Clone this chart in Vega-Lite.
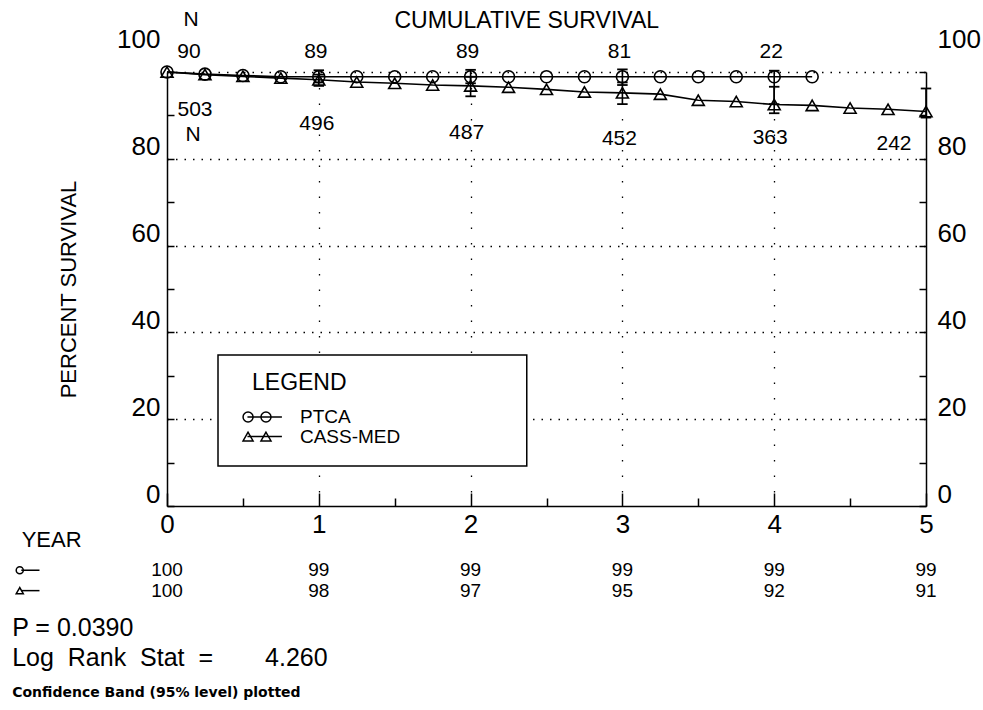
{
  "$schema": "https://vega.github.io/schema/vega-lite/v6.json",
  "width": 759,
  "height": 434,
  "autosize": {"type": "none"},
  "padding": {"left": 167, "top": 72, "right": 57, "bottom": 204},
  "background": "white",
  "config": {
    "view": {"stroke": null},
    "font": "Liberation Sans",
    "text": {"font": "Liberation Sans", "color": "black", "baseline": "middle"}
  },
  "data": {"values": [{}]},
  "datasets": {
    "surv": [
      {"group": "PTCA", "year": 0, "surv": 100},
      {"group": "PTCA", "year": 0.25, "surv": 99.5},
      {"group": "PTCA", "year": 0.5, "surv": 99.2},
      {"group": "PTCA", "year": 0.75, "surv": 98.9},
      {"group": "PTCA", "year": 1, "surv": 98.9},
      {"group": "PTCA", "year": 1.25, "surv": 98.9},
      {"group": "PTCA", "year": 1.5, "surv": 98.9},
      {"group": "PTCA", "year": 1.75, "surv": 98.9},
      {"group": "PTCA", "year": 2, "surv": 98.9},
      {"group": "PTCA", "year": 2.25, "surv": 98.9},
      {"group": "PTCA", "year": 2.5, "surv": 98.9},
      {"group": "PTCA", "year": 2.75, "surv": 98.9},
      {"group": "PTCA", "year": 3, "surv": 98.9},
      {"group": "PTCA", "year": 3.25, "surv": 98.9},
      {"group": "PTCA", "year": 3.5, "surv": 98.9},
      {"group": "PTCA", "year": 3.75, "surv": 98.9},
      {"group": "PTCA", "year": 4, "surv": 98.9},
      {"group": "PTCA", "year": 4.25, "surv": 98.9},
      {"group": "CASS-MED", "year": 0, "surv": 100},
      {"group": "CASS-MED", "year": 0.25, "surv": 99.4},
      {"group": "CASS-MED", "year": 0.5, "surv": 99.0},
      {"group": "CASS-MED", "year": 0.75, "surv": 98.6},
      {"group": "CASS-MED", "year": 1, "surv": 98.2},
      {"group": "CASS-MED", "year": 1.25, "surv": 97.7},
      {"group": "CASS-MED", "year": 1.5, "surv": 97.4},
      {"group": "CASS-MED", "year": 1.75, "surv": 97.0},
      {"group": "CASS-MED", "year": 2, "surv": 96.8},
      {"group": "CASS-MED", "year": 2.25, "surv": 96.5},
      {"group": "CASS-MED", "year": 2.5, "surv": 96.0},
      {"group": "CASS-MED", "year": 2.75, "surv": 95.4},
      {"group": "CASS-MED", "year": 3, "surv": 95.2},
      {"group": "CASS-MED", "year": 3.25, "surv": 94.9},
      {"group": "CASS-MED", "year": 3.5, "surv": 93.5},
      {"group": "CASS-MED", "year": 3.75, "surv": 93.2},
      {"group": "CASS-MED", "year": 4, "surv": 92.5},
      {"group": "CASS-MED", "year": 4.25, "surv": 92.3},
      {"group": "CASS-MED", "year": 4.5, "surv": 91.7},
      {"group": "CASS-MED", "year": 4.75, "surv": 91.4},
      {"group": "CASS-MED", "year": 5, "surv": 90.9}
    ],
    "ci": [
      {"group": "PTCA", "year": 1, "lo": 97.6, "hi": 100.4},
      {"group": "PTCA", "year": 2, "lo": 97.4, "hi": 100.5},
      {"group": "PTCA", "year": 3, "lo": 97.0, "hi": 100.6},
      {"group": "PTCA", "year": 4, "lo": 92.6, "hi": 100.3},
      {"group": "CASS-MED", "year": 1, "lo": 96.8, "hi": 99.4},
      {"group": "CASS-MED", "year": 2, "lo": 94.4, "hi": 98.9},
      {"group": "CASS-MED", "year": 3, "lo": 92.6, "hi": 97.6},
      {"group": "CASS-MED", "year": 4, "lo": 90.5, "hi": 96.6},
      {"group": "CASS-MED", "year": 5, "lo": 89.5, "hi": 96.2}
    ],
    "nrisk": [
      {"group": "PTCA", "year": 0, "n": 90},
      {"group": "PTCA", "year": 1, "n": 89},
      {"group": "PTCA", "year": 2, "n": 89},
      {"group": "PTCA", "year": 3, "n": 81},
      {"group": "PTCA", "year": 4, "n": 22},
      {"group": "CASS-MED", "year": 0, "n": 503},
      {"group": "CASS-MED", "year": 1, "n": 496},
      {"group": "CASS-MED", "year": 2, "n": 487},
      {"group": "CASS-MED", "year": 3, "n": 452},
      {"group": "CASS-MED", "year": 4, "n": 363},
      {"group": "CASS-MED", "year": 5, "n": 242}
    ],
    "table": [
      {"group": "PTCA", "year": 0, "pct": 100},
      {"group": "PTCA", "year": 1, "pct": 99},
      {"group": "PTCA", "year": 2, "pct": 99},
      {"group": "PTCA", "year": 3, "pct": 99},
      {"group": "PTCA", "year": 4, "pct": 99},
      {"group": "PTCA", "year": 5, "pct": 99},
      {"group": "CASS-MED", "year": 0, "pct": 100},
      {"group": "CASS-MED", "year": 1, "pct": 98},
      {"group": "CASS-MED", "year": 2, "pct": 97},
      {"group": "CASS-MED", "year": 3, "pct": 95},
      {"group": "CASS-MED", "year": 4, "pct": 92},
      {"group": "CASS-MED", "year": 5, "pct": 91}
    ]
  },
  "resolve": {"axis": {"y": "independent"}},
  "layer": [
    {
      "data": {"name": "surv"},
      "mark": {"type": "line", "color": "black", "strokeWidth": 1.6},
      "encoding": {
        "x": {
          "field": "year", "type": "quantitative", "title": null,
          "scale": {"domain": [0, 5], "nice": false},
          "axis": {
            "values": [0, 0.25, 0.5, 0.75, 1, 1.25, 1.5, 1.75, 2, 2.25, 2.5, 2.75, 3, 3.25, 3.5, 3.75, 4, 4.25, 4.5, 4.75, 5],
            "labelExpr": "datum.value % 1 === 0 ? format(datum.value, 'd') : ''",
            "tickSize": {"condition": {"test": "datum.value % 1 === 0", "value": -13}, "value": -8},
            "tickWidth": 1.5, "tickColor": "black",
            "domainColor": "black", "domainWidth": 1.5,
            "grid": true, "gridColor": "black", "gridWidth": 1.3, "gridDash": [1.5, 14],
            "gridOpacity": {"condition": {"test": "datum.value % 1 === 0 && datum.value > 0 && datum.value < 5", "value": 1}, "value": 0},
            "labelFontSize": 26, "labelColor": "black", "labelFont": "Liberation Sans",
            "labelPadding": 18, "labelFlush": false, "labelOverlap": false
          }
        },
        "y": {
          "field": "surv", "type": "quantitative",
          "scale": {"domain": [0, 100], "nice": false},
          "axis": {
            "orient": "left",
            "values": [0, 10, 20, 30, 40, 50, 60, 70, 80, 90, 100],
            "labelExpr": "datum.value % 20 === 0 ? datum.label : ''",
            "tickSize": -7, "tickWidth": 1.5, "tickColor": "black",
            "domainColor": "black", "domainWidth": 1.5,
            "grid": true, "gridColor": "black", "gridWidth": 1.3, "gridDash": [1.5, 7],
            "gridOpacity": {"condition": {"test": "datum.value % 20 === 0 && datum.value > 0", "value": 1}, "value": 0},
            "labelFontSize": 26, "labelColor": "black", "labelFont": "Liberation Sans",
            "labelPadding": 14, "labelFlush": false, "labelOverlap": false,
            "labelOffset": {"condition": {"test": "datum.value === 100", "value": -33}, "value": -12},
            "title": "PERCENT SURVIVAL", "titleFontSize": 22, "titleFontWeight": "normal",
            "titleFont": "Liberation Sans", "titleColor": "black", "titlePadding": 36
          }
        },
        "detail": {"field": "group"}
      }
    },
    {
      "data": {"name": "surv"},
      "mark": {"type": "point", "filled": false, "color": "black", "strokeWidth": 1.6, "size": 144, "opacity": 1},
      "encoding": {
        "x": {"field": "year", "type": "quantitative", "title": null, "scale": {"domain": [0, 5], "nice": false}},
        "y": {
          "field": "surv", "type": "quantitative",
          "scale": {"domain": [0, 100], "nice": false},
          "axis": {
            "orient": "right",
            "values": [0, 10, 20, 30, 40, 50, 60, 70, 80, 90, 100],
            "labelExpr": "datum.value % 20 === 0 ? datum.label : ''",
            "tickSize": -7, "tickWidth": 1.5, "tickColor": "black",
            "domainColor": "black", "domainWidth": 1.5, "grid": false,
            "labelFontSize": 26, "labelColor": "black", "labelFont": "Liberation Sans",
            "labelPadding": 18, "labelFlush": false, "labelOverlap": false,
            "labelOffset": {"condition": {"test": "datum.value === 100", "value": -33}, "value": -12},
            "title": null
          }
        },
        "shape": {"field": "group", "type": "nominal", "legend": null,
          "scale": {"domain": ["PTCA", "CASS-MED"], "range": ["circle", "triangle-up"]}}
      }
    },
    {
      "data": {"name": "ci"},
      "mark": {"type": "rule", "color": "black", "strokeWidth": 1.6},
      "encoding": {
        "x": {"field": "year", "type": "quantitative", "title": null, "scale": {"domain": [0, 5], "nice": false}},
        "y": {"field": "lo", "type": "quantitative", "axis": null, "scale": {"domain": [0, 100], "nice": false}},
        "y2": {"field": "hi"}
      }
    },
    {
      "data": {"name": "ci"},
      "transform": [{"fold": ["lo", "hi"], "as": ["bound", "val"]}],
      "mark": {"type": "point", "shape": "M-1,0L1,0", "filled": false, "color": "black", "strokeWidth": 1.8, "size": 110, "opacity": 1},
      "encoding": {
        "x": {"field": "year", "type": "quantitative", "title": null, "scale": {"domain": [0, 5], "nice": false}},
        "y": {"field": "val", "type": "quantitative", "axis": null, "scale": {"domain": [0, 100], "nice": false}}
      }
    },
    {
      "mark": {"type": "rect", "fill": "white", "stroke": "black", "strokeWidth": 1.5},
      "encoding": {
        "x": {"datum": 0.336, "type": "quantitative", "scale": {"domain": [0, 5], "nice": false}},
        "x2": {"datum": 2.37},
        "y": {"datum": 34.8, "type": "quantitative", "axis": null, "scale": {"domain": [0, 100], "nice": false}},
        "y2": {"datum": 9.2}
      }
    },
    {
      "mark": {"type": "text", "fontSize": 23, "align": "left"},
      "encoding": {
        "x": {"datum": 0.56, "type": "quantitative", "scale": {"domain": [0, 5], "nice": false}},
        "y": {"datum": 28.4, "type": "quantitative", "axis": null, "scale": {"domain": [0, 100], "nice": false}},
        "text": {"value": "LEGEND"}
      }
    },
    {
      "mark": {"type": "text", "fontSize": 19, "align": "left"},
      "encoding": {
        "x": {"datum": 0.876, "type": "quantitative", "scale": {"domain": [0, 5], "nice": false}},
        "y": {"datum": 20.5, "type": "quantitative", "axis": null, "scale": {"domain": [0, 100], "nice": false}},
        "text": {"value": "PTCA"}
      }
    },
    {
      "mark": {"type": "text", "fontSize": 19, "align": "left"},
      "encoding": {
        "x": {"datum": 0.876, "type": "quantitative", "scale": {"domain": [0, 5], "nice": false}},
        "y": {"datum": 16.0, "type": "quantitative", "axis": null, "scale": {"domain": [0, 100], "nice": false}},
        "text": {"value": "CASS-MED"}
      }
    },
    {
      "mark": {"type": "rule", "color": "black", "strokeWidth": 1.5},
      "encoding": {
        "x": {"datum": 0.53, "type": "quantitative", "scale": {"domain": [0, 5], "nice": false}},
        "x2": {"datum": 0.757},
        "y": {"datum": 20.5, "type": "quantitative", "axis": null, "scale": {"domain": [0, 100], "nice": false}}
      }
    },
    {
      "mark": {"type": "rule", "color": "black", "strokeWidth": 1.5},
      "encoding": {
        "x": {"datum": 0.53, "type": "quantitative", "scale": {"domain": [0, 5], "nice": false}},
        "x2": {"datum": 0.757},
        "y": {"datum": 16.0, "type": "quantitative", "axis": null, "scale": {"domain": [0, 100], "nice": false}}
      }
    },
    {
      "mark": {"type": "point", "shape": "circle", "filled": false, "color": "black", "strokeWidth": 1.5, "size": 100, "opacity": 1},
      "encoding": {
        "x": {"datum": 0.534, "type": "quantitative", "scale": {"domain": [0, 5], "nice": false}},
        "y": {"datum": 20.5, "type": "quantitative", "axis": null, "scale": {"domain": [0, 100], "nice": false}}
      }
    },
    {
      "mark": {"type": "point", "shape": "circle", "filled": false, "color": "black", "strokeWidth": 1.5, "size": 100, "opacity": 1},
      "encoding": {
        "x": {"datum": 0.652, "type": "quantitative", "scale": {"domain": [0, 5], "nice": false}},
        "y": {"datum": 20.5, "type": "quantitative", "axis": null, "scale": {"domain": [0, 100], "nice": false}}
      }
    },
    {
      "mark": {"type": "point", "shape": "triangle-up", "filled": false, "color": "black", "strokeWidth": 1.5, "size": 100, "opacity": 1},
      "encoding": {
        "x": {"datum": 0.534, "type": "quantitative", "scale": {"domain": [0, 5], "nice": false}},
        "y": {"datum": 16.0, "type": "quantitative", "axis": null, "scale": {"domain": [0, 100], "nice": false}}
      }
    },
    {
      "mark": {"type": "point", "shape": "triangle-up", "filled": false, "color": "black", "strokeWidth": 1.5, "size": 100, "opacity": 1},
      "encoding": {
        "x": {"datum": 0.652, "type": "quantitative", "scale": {"domain": [0, 5], "nice": false}},
        "y": {"datum": 16.0, "type": "quantitative", "axis": null, "scale": {"domain": [0, 100], "nice": false}}
      }
    },
    {
      "mark": {"type": "text", "fontSize": 23, "align": "center"},
      "encoding": {
        "x": {"datum": 2.37, "type": "quantitative", "scale": {"domain": [0, 5], "nice": false}},
        "y": {"datum": 111.8, "type": "quantitative", "axis": null, "scale": {"domain": [0, 100], "nice": false}},
        "text": {"value": "CUMULATIVE SURVIVAL"}
      }
    },
    {
      "mark": {"type": "text", "fontSize": 21, "align": "center", "dx": 24},
      "encoding": {
        "x": {"datum": 0, "type": "quantitative", "scale": {"domain": [0, 5], "nice": false}},
        "y": {"datum": 112, "type": "quantitative", "axis": null, "scale": {"domain": [0, 100], "nice": false}},
        "text": {"value": "N"}
      }
    },
    {
      "data": {"name": "nrisk"},
      "transform": [{"filter": "datum.group === 'PTCA' && datum.year === 0"}],
      "mark": {"type": "text", "fontSize": 21, "align": "center", "dx": 22},
      "encoding": {
        "x": {"field": "year", "type": "quantitative", "title": null, "scale": {"domain": [0, 5], "nice": false}},
        "y": {"datum": 104.6, "type": "quantitative", "axis": null, "scale": {"domain": [0, 100], "nice": false}},
        "text": {"field": "n"}
      }
    },
    {
      "data": {"name": "nrisk"},
      "transform": [{"filter": "datum.group === 'PTCA' && datum.year > 0"}],
      "mark": {"type": "text", "fontSize": 21, "align": "center", "dx": -3},
      "encoding": {
        "x": {"field": "year", "type": "quantitative", "title": null, "scale": {"domain": [0, 5], "nice": false}},
        "y": {"datum": 104.6, "type": "quantitative", "axis": null, "scale": {"domain": [0, 100], "nice": false}},
        "text": {"field": "n"}
      }
    },
    {
      "data": {"name": "nrisk"},
      "transform": [{"filter": "datum.group === 'CASS-MED' && datum.year === 0"}],
      "mark": {"type": "text", "fontSize": 21, "align": "center", "dx": 28},
      "encoding": {
        "x": {"field": "year", "type": "quantitative", "title": null, "scale": {"domain": [0, 5], "nice": false}},
        "y": {"datum": 91.2, "type": "quantitative", "axis": null, "scale": {"domain": [0, 100], "nice": false}},
        "text": {"field": "n"}
      }
    },
    {
      "mark": {"type": "text", "fontSize": 21, "align": "center", "dx": 26},
      "encoding": {
        "x": {"datum": 0, "type": "quantitative", "scale": {"domain": [0, 5], "nice": false}},
        "y": {"datum": 85.5, "type": "quantitative", "axis": null, "scale": {"domain": [0, 100], "nice": false}},
        "text": {"value": "N"}
      }
    },
    {
      "data": {"name": "nrisk"},
      "transform": [{"filter": "datum.group === 'CASS-MED' && datum.year === 1"}],
      "mark": {"type": "text", "fontSize": 21, "align": "center", "dx": -2},
      "encoding": {
        "x": {"field": "year", "type": "quantitative", "title": null, "scale": {"domain": [0, 5], "nice": false}},
        "y": {"datum": 88.0, "type": "quantitative", "axis": null, "scale": {"domain": [0, 100], "nice": false}},
        "text": {"field": "n"}
      }
    },
    {
      "data": {"name": "nrisk"},
      "transform": [{"filter": "datum.group === 'CASS-MED' && datum.year === 2"}],
      "mark": {"type": "text", "fontSize": 21, "align": "center", "dx": -4},
      "encoding": {
        "x": {"field": "year", "type": "quantitative", "title": null, "scale": {"domain": [0, 5], "nice": false}},
        "y": {"datum": 85.9, "type": "quantitative", "axis": null, "scale": {"domain": [0, 100], "nice": false}},
        "text": {"field": "n"}
      }
    },
    {
      "data": {"name": "nrisk"},
      "transform": [{"filter": "datum.group === 'CASS-MED' && datum.year === 3"}],
      "mark": {"type": "text", "fontSize": 21, "align": "center", "dx": -3},
      "encoding": {
        "x": {"field": "year", "type": "quantitative", "title": null, "scale": {"domain": [0, 5], "nice": false}},
        "y": {"datum": 84.6, "type": "quantitative", "axis": null, "scale": {"domain": [0, 100], "nice": false}},
        "text": {"field": "n"}
      }
    },
    {
      "data": {"name": "nrisk"},
      "transform": [{"filter": "datum.group === 'CASS-MED' && datum.year === 4"}],
      "mark": {"type": "text", "fontSize": 21, "align": "center", "dx": -4},
      "encoding": {
        "x": {"field": "year", "type": "quantitative", "title": null, "scale": {"domain": [0, 5], "nice": false}},
        "y": {"datum": 84.9, "type": "quantitative", "axis": null, "scale": {"domain": [0, 100], "nice": false}},
        "text": {"field": "n"}
      }
    },
    {
      "data": {"name": "nrisk"},
      "transform": [{"filter": "datum.group === 'CASS-MED' && datum.year === 5"}],
      "mark": {"type": "text", "fontSize": 21, "align": "center", "dx": -32},
      "encoding": {
        "x": {"field": "year", "type": "quantitative", "title": null, "scale": {"domain": [0, 5], "nice": false}},
        "y": {"datum": 83.3, "type": "quantitative", "axis": null, "scale": {"domain": [0, 100], "nice": false}},
        "text": {"field": "n"}
      }
    },
    {
      "mark": {"type": "text", "fontSize": 22, "align": "center"},
      "encoding": {
        "x": {"datum": -0.76, "type": "quantitative", "scale": {"domain": [0, 5], "nice": false}},
        "y": {"datum": -7.8, "type": "quantitative", "axis": null, "scale": {"domain": [0, 100], "nice": false}},
        "text": {"value": "YEAR"}
      }
    },
    {
      "data": {"name": "table"},
      "transform": [{"filter": "datum.group === 'PTCA'"}],
      "mark": {"type": "text", "fontSize": 19, "align": "center"},
      "encoding": {
        "x": {"field": "year", "type": "quantitative", "title": null, "scale": {"domain": [0, 5], "nice": false}},
        "y": {"datum": -14.8, "type": "quantitative", "axis": null, "scale": {"domain": [0, 100], "nice": false}},
        "text": {"field": "pct"}
      }
    },
    {
      "data": {"name": "table"},
      "transform": [{"filter": "datum.group === 'CASS-MED'"}],
      "mark": {"type": "text", "fontSize": 19, "align": "center"},
      "encoding": {
        "x": {"field": "year", "type": "quantitative", "title": null, "scale": {"domain": [0, 5], "nice": false}},
        "y": {"datum": -19.5, "type": "quantitative", "axis": null, "scale": {"domain": [0, 100], "nice": false}},
        "text": {"field": "pct"}
      }
    },
    {
      "mark": {"type": "rule", "color": "black", "strokeWidth": 1.5},
      "encoding": {
        "x": {"datum": -0.96, "type": "quantitative", "scale": {"domain": [0, 5], "nice": false}},
        "x2": {"datum": -0.84},
        "y": {"datum": -14.8, "type": "quantitative", "axis": null, "scale": {"domain": [0, 100], "nice": false}}
      }
    },
    {
      "mark": {"type": "rule", "color": "black", "strokeWidth": 1.5},
      "encoding": {
        "x": {"datum": -0.96, "type": "quantitative", "scale": {"domain": [0, 5], "nice": false}},
        "x2": {"datum": -0.84},
        "y": {"datum": -19.5, "type": "quantitative", "axis": null, "scale": {"domain": [0, 100], "nice": false}}
      }
    },
    {
      "mark": {"type": "point", "shape": "circle", "filled": false, "color": "black", "strokeWidth": 1.5, "size": 50, "opacity": 1},
      "encoding": {
        "x": {"datum": -0.97, "type": "quantitative", "scale": {"domain": [0, 5], "nice": false}},
        "y": {"datum": -14.8, "type": "quantitative", "axis": null, "scale": {"domain": [0, 100], "nice": false}}
      }
    },
    {
      "mark": {"type": "point", "shape": "triangle-up", "filled": false, "color": "black", "strokeWidth": 1.5, "size": 50, "opacity": 1},
      "encoding": {
        "x": {"datum": -0.97, "type": "quantitative", "scale": {"domain": [0, 5], "nice": false}},
        "y": {"datum": -19.5, "type": "quantitative", "axis": null, "scale": {"domain": [0, 100], "nice": false}}
      }
    },
    {
      "mark": {"type": "text", "fontSize": 25, "align": "left"},
      "encoding": {
        "x": {"datum": -1.02, "type": "quantitative", "scale": {"domain": [0, 5], "nice": false}},
        "y": {"datum": -28.1, "type": "quantitative", "axis": null, "scale": {"domain": [0, 100], "nice": false}},
        "text": {"value": "P = 0.0390"}
      }
    },
    {
      "mark": {"type": "text", "fontSize": 25, "align": "left"},
      "encoding": {
        "x": {"datum": -1.02, "type": "quantitative", "scale": {"domain": [0, 5], "nice": false}},
        "y": {"datum": -35.0, "type": "quantitative", "axis": null, "scale": {"domain": [0, 100], "nice": false}},
        "text": {"value": "Log\u00a0\u00a0Rank\u00a0\u00a0Stat\u00a0\u00a0="}
      }
    },
    {
      "mark": {"type": "text", "fontSize": 25, "align": "left"},
      "encoding": {
        "x": {"datum": 0.646, "type": "quantitative", "scale": {"domain": [0, 5], "nice": false}},
        "y": {"datum": -35.0, "type": "quantitative", "axis": null, "scale": {"domain": [0, 100], "nice": false}},
        "text": {"value": "4.260"}
      }
    },
    {
      "mark": {"type": "text", "fontSize": 14, "font": "DejaVu Sans", "fontWeight": "bold", "align": "left"},
      "encoding": {
        "x": {"datum": -1.02, "type": "quantitative", "scale": {"domain": [0, 5], "nice": false}},
        "y": {"datum": -43.1, "type": "quantitative", "axis": null, "scale": {"domain": [0, 100], "nice": false}},
        "text": {"value": "Confidence Band (95% level) plotted"}
      }
    }
  ]
}
